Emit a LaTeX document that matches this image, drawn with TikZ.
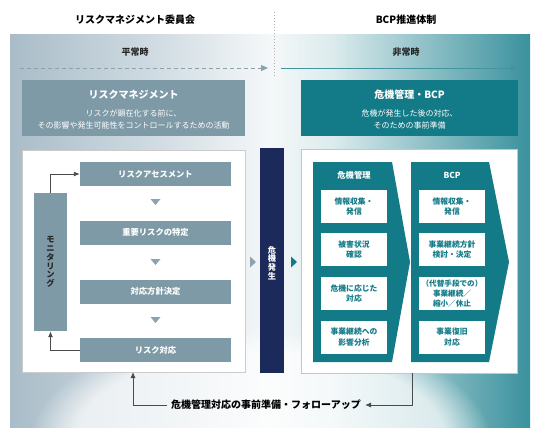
\documentclass[tikz,border=0pt]{standalone}
\usepackage{fontspec}
\setmainfont{Noto Sans CJK JP}
\usetikzlibrary{arrows.meta,fadings}
\definecolor{gbox}{HTML}{7E9AA7}
\definecolor{teal1}{HTML}{137B87}
\definecolor{navy1}{HTML}{1B2A5B}
\definecolor{bgL}{HTML}{A9BCC8}
\definecolor{bgL2}{HTML}{D3DEE4}
\definecolor{bgM}{HTML}{F5F8F9}
\definecolor{bgR2}{HTML}{DCEBED}
\definecolor{bgR}{HTML}{3A919D}
\definecolor{tri}{HTML}{8AA3AF}
\definecolor{conn}{HTML}{4A4A4A}
\pgfdeclarehorizontalshading{bgshade}{100bp}{color(0bp)=(bgL); color(25bp)=(bgL); color(40bp)=(bgL2); color(50bp)=(bgM); color(56bp)=(bgR2); color(75bp)=(bgR); color(100bp)=(bgR)}
\tikzset{
  hdr/.style={font=\bfseries\fontsize{10}{12}\selectfont, text=black},
  phase/.style={font=\bfseries\fontsize{9}{11}\selectfont, text=black!85},
  graybox/.style={fill=gbox, draw=none, inner sep=0pt},
  stepbox/.style={graybox, minimum width=151pt, minimum height=24pt, text=white, font=\bfseries\fontsize{8.3}{10}\selectfont},
  whitepanel/.style={fill=white, inner sep=0pt},
  inbox/.style={fill=white, minimum width=66pt, minimum height=33pt, inner sep=0pt, align=center, text=teal1, font=\bfseries\fontsize{7.8}{10.5}\selectfont},
  vtext/.style={align=center, font=\bfseries\fontsize{8.2}{8.8}\selectfont},
  connline/.style={draw=conn, line width=0.9pt, -{Latex[length=6pt,width=5pt]}},
}
\begin{document}
\begin{tikzpicture}[x=1pt,y=-1pt]
\useasboundingbox (0,0) rectangle (540,437);
\fill[white] (0,0) rectangle (540,437);
% background panel
\shade[shading=bgshade] (10,34) rectangle (530,427);
\begin{scope}
\clip (10,34) rectangle (530,427);
\fill[white, opacity=0.7, path fading=circle with fuzzy edge 20 percent] (260,440) ellipse (230pt and 110pt);
\end{scope}
% separator
\draw[black!30, dotted, line width=1pt] (274,12) -- (274,76);
% headers
\node[hdr] (h1) at (135,20) {リスクマネジメント委員会};
\node[hdr] (h2) at (406,20) {BCP推進体制};
\node[phase] (p1) at (135,52) {平常時};
\node[phase] (p2) at (406,52) {非常時};
\coordinate (da) at (20,68);
\coordinate (db) at (268,68);
\coordinate (sa) at (281,68);
\coordinate (sb) at (518,68);
\draw[tri, dashed, dash pattern=on 4pt off 3pt, line width=0.9pt, -{Triangle[length=7pt,width=6pt]}] (da) -- (db);
\draw[teal1!80, line width=1pt, -{Triangle[length=7pt,width=6pt]}] (sa) -- (sb);
% top boxes
\node[graybox, minimum width=223pt, minimum height=56pt] (rm) at (133.5,108) {};
\node[font=\bfseries\fontsize{10}{12}\selectfont, text=white] (rmt) at (133.5,95) {リスクマネジメント};
\node[align=center, font=\fontsize{8}{12}\selectfont, text=white] (rms) at (133.5,119) {リスクが顕在化する前に、\\その影響や発生可能性をコントロールするための活動};
\node[fill=teal1, inner sep=0pt, minimum width=217pt, minimum height=56pt] (bc) at (409.5,108) {};
\node[font=\bfseries\fontsize{10}{12}\selectfont, text=white] (bct) at (409.5,95) {危機管理・BCP};
\node[align=center, font=\fontsize{8}{12}\selectfont, text=white] (bcs) at (409.5,119) {危機が発生した後の対応、\\そのための事前準備};
% panels
\node[whitepanel, draw=black!20, minimum width=223pt, minimum height=222pt] (lp) at (133.5,261) {};
\node[whitepanel, draw=teal1!35, minimum width=216pt, minimum height=224pt] (rp) at (409,261) {};
% left steps
\node[stepbox] (s1) at (155.5,174) {リスクアセスメント};
\node[stepbox] (s2) at (155.5,232.5) {重要リスクの特定};
\node[stepbox] (s3) at (155.5,291.5) {対応方針決定};
\node[stepbox] (s4) at (155.5,350) {リスク対応};
\foreach \y in {199,259,317}{
  \fill[tri] (150.5,\y) -- (160.5,\y) -- (155.5,\y+6) -- cycle;
}
\node[graybox, minimum width=33pt, minimum height=138pt] (mon) at (50.5,262) {};
\node[vtext, text=black!85] (mont) at (50.5,262) {モ\\ニ\\タ\\リ\\ン\\グ};
\draw[connline] (mon.north) |- (s1.west);
\draw[connline] (s4.west) -| (mon.south);
% crisis bar
\node[fill=navy1, inner sep=0pt, minimum width=24pt, minimum height=225pt] (cr) at (272,260.5) {};
\node[vtext, text=white] (crt) at (272,263) {危\\機\\発\\生};
\fill[tri] (250,256.5) -- (256,262) -- (250,267.5) -- cycle;
\fill[teal1] (291,256.5) -- (297,262) -- (291,267.5) -- cycle;
% chevrons
\fill[teal1] (313,162) -- (392,162) -- (410,262) -- (392,362) -- (313,362) -- cycle;
\fill[teal1] (411,162) -- (489,162) -- (509,262) -- (489,362) -- (411,362) -- cycle;
\node[font=\bfseries\fontsize{8.3}{10}\selectfont, text=white] (c1t) at (354,175) {危機管理};
\node[font=\bfseries\fontsize{8.3}{10}\selectfont, text=white] (c2t) at (452,175) {BCP};
\node[inbox] (a1) at (354,206.5) {情報収集・\\発信};
\node[inbox] (a2) at (354,249.5) {被害状況\\確認};
\node[inbox] (a3) at (354,293.5) {危機に応じた\\対応};
\node[inbox] (a4) at (354,337) {事業継続への\\影響分析};
\node[inbox] (b1) at (452,206.5) {情報収集・\\発信};
\node[inbox] (b2) at (452,249.5) {事業継続方針\\検討・決定};
\node[inbox, font=\bfseries\fontsize{7.6}{9.6}\selectfont] (b3) at (452,293.5) {（代替手段での）\\事業継続／\\縮小／休止};
\node[inbox] (b4) at (452,337) {事業復旧\\対応};
% bottom follow-up
\node[font=\bfseries\fontsize{10}{12}\selectfont, text=black, inner sep=4pt] (fu) at (266,405) {危機管理対応の事前準備・フォローアップ};
\coordinate (lpb) at (133,372);
\coordinate (rpb) at (412,373);
\draw[connline] (fu.west) -| (lpb);
\draw[connline] (rpb) |- (fu.east);
\end{tikzpicture}
\end{document}
